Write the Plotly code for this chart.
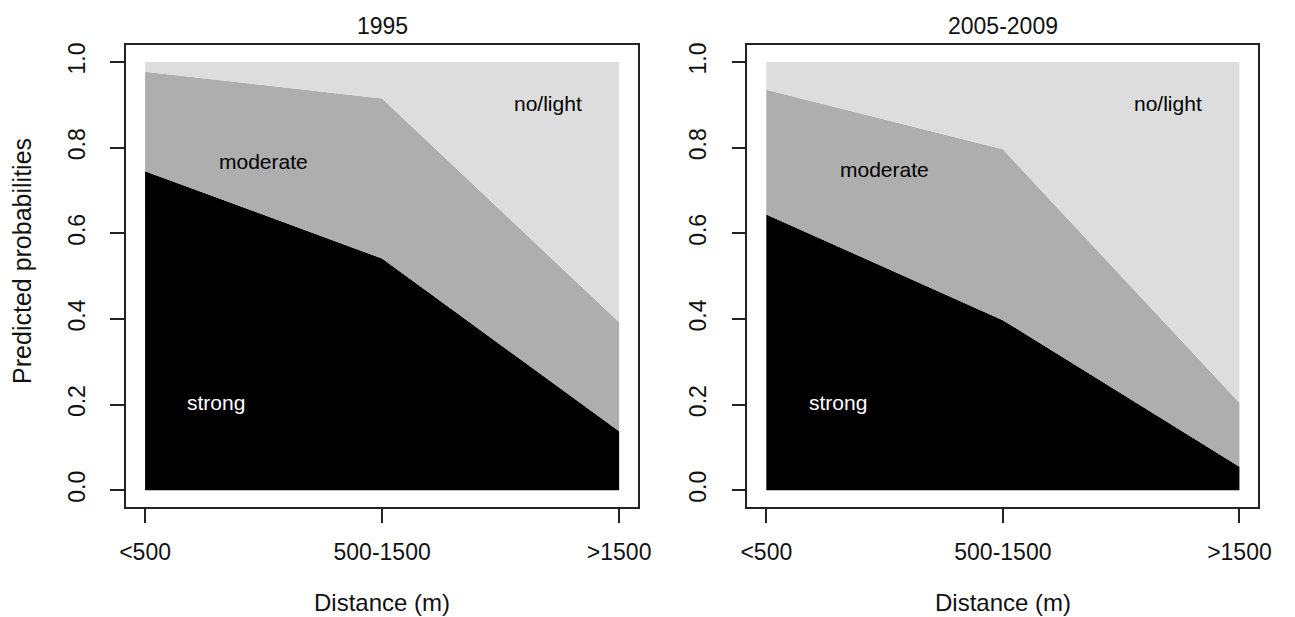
import numpy as np
import plotly.graph_objects as go

W, H = 1295, 617

categories = ["<500", "500-1500", ">1500"]
y_ticks = [0.0, 0.2, 0.4, 0.6, 0.8, 1.0]
y_ticklabels = ["0.0", "0.2", "0.4", "0.6", "0.8", "1.0"]

panel_titles = ["1995", "2005-2009"]

# predicted probabilities per distance class
strong_1995 = [0.745, 0.541, 0.138]
moderate_1995 = [0.232, 0.374, 0.254]
nolight_1995 = [0.023, 0.085, 0.608]

strong_0509 = [0.644, 0.397, 0.055]
moderate_0509 = [0.291, 0.399, 0.149]
nolight_0509 = [0.065, 0.204, 0.796]

layer_names = ["strong", "moderate", "no/light"]
layer_colors = ["#000000", "#AEAEAE", "#DDDDDD"]
label_colors = ["#FFFFFF", "#000000", "#000000"]

# label positions (data coords) in each panel
label_pos_1995 = [(0.30, 0.204), (0.50, 0.768), (1.70, 0.903)]
label_pos_0509 = [(0.305, 0.204), (0.50, 0.749), (1.70, 0.903)]

FONT = "Liberation Sans, Arial, Helvetica, sans-serif"

# pixel geometry of the two plot boxes
boxes = [(121, 641), (752, 1271)]
box_top, box_bottom = 43, 507

fig = go.Figure()

panels = [
    (strong_1995, moderate_1995, nolight_1995, label_pos_1995),
    (strong_0509, moderate_0509, nolight_0509, label_pos_0509),
]

for i, (s, m, n, lpos) in enumerate(panels):
    xa = "x" if i == 0 else "x2"
    ya = "y" if i == 0 else "y2"
    layers = np.cumsum(np.array([s, m, n]), axis=0)
    for j in range(3):
        fig.add_trace(go.Scatter(
            x=categories, y=layers[j], mode="lines",
            line=dict(width=0, color=layer_colors[j]),
            fill="tozeroy" if j == 0 else "tonexty",
            fillcolor=layer_colors[j],
            xaxis=xa, yaxis=ya, showlegend=False, hoverinfo="skip",
        ))
    for j, (lx, ly) in enumerate(lpos):
        fig.add_annotation(
            x=lx, y=ly, xref=xa, yref=ya, text=layer_names[j],
            showarrow=False, font=dict(family=FONT, size=21, color=label_colors[j]),
        )

common_x = dict(
    type="category", categoryorder="array", categoryarray=categories,
    range=[-0.08, 2.08], showgrid=False, zeroline=False,
    showline=True, linecolor="#222", linewidth=1.5, mirror=True,
    ticks="outside", ticklen=14, tickwidth=1.5, tickcolor="#222",
    tickfont=dict(family=FONT, size=23, color="#111"),
    ticklabelstandoff=9,
)
common_y = dict(
    range=[-0.04, 1.04], showgrid=False, zeroline=False,
    showline=True, linecolor="#222", linewidth=1.5, mirror=True,
    ticks="outside", ticklen=14, tickwidth=1.5, tickcolor="#222",
    tickvals=y_ticks, ticktext=y_ticklabels, tickangle=-90,
    tickfont=dict(family=FONT, size=23, color="#111"),
    ticklabelstandoff=16,
)

ydom = [1 - box_bottom / H, 1 - box_top / H]
fig.update_layout(
    width=W, height=H, margin=dict(l=0, r=0, t=0, b=0),
    paper_bgcolor="white", plot_bgcolor="white",
    xaxis=dict(common_x, domain=[boxes[0][0] / W, boxes[0][1] / W], anchor="y"),
    yaxis=dict(common_y, domain=ydom, anchor="x"),
    xaxis2=dict(common_x, domain=[boxes[1][0] / W, boxes[1][1] / W], anchor="y2"),
    yaxis2=dict(common_y, domain=ydom, anchor="x2"),
)

for i, t in enumerate(panel_titles):
    cx = (boxes[i][0] + boxes[i][1]) / 2 / W
    fig.add_annotation(x=cx, y=1 - 24 / H, xref="paper", yref="paper", text=t,
                       showarrow=False, font=dict(family=FONT, size=23, color="#111"),
                       xanchor="center", yanchor="middle")
    fig.add_annotation(x=cx, y=0, xref="paper", yref="paper", text="Distance (m)",
                       showarrow=False, font=dict(family=FONT, size=24, color="#111"),
                       xanchor="center", yanchor="bottom", borderpad=0)

fig.add_annotation(x=15 / W, y=1 - 260 / H, xref="paper", yref="paper",
                   text="Predicted probabilities", textangle=-90, showarrow=False,
                   font=dict(family=FONT, size=25, color="#111"),
                   xanchor="center", yanchor="middle")

fig.write_html("out.html", config={"displayModeBar": False},
               post_script="document.body.style.margin='0px';")
